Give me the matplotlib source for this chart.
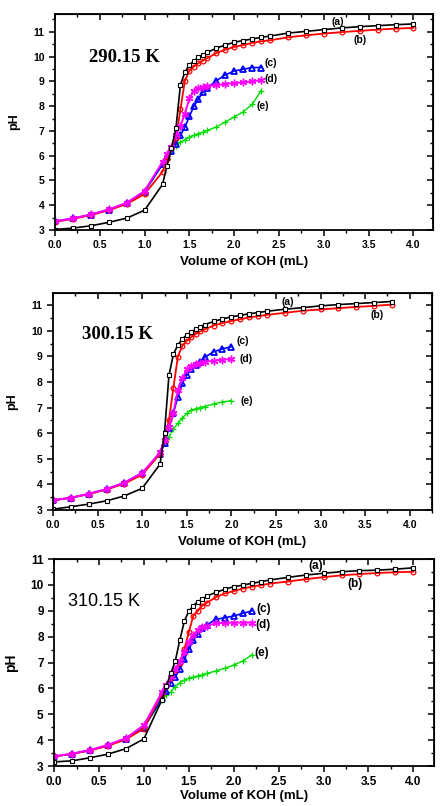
import matplotlib
matplotlib.use("Agg")
import matplotlib.pyplot as plt
from matplotlib.ticker import MultipleLocator

# volume of KOH (mL)
vol = [0, 0.2, 0.4, 0.6, 0.8, 1.0, 1.2, 1.25, 1.3, 1.35, 1.4, 1.45, 1.5, 1.55, 1.6,
       1.65, 1.7, 1.8, 1.9, 2.0, 2.1, 2.2, 2.3, 2.4, 2.6, 2.8, 3.0, 3.2, 3.4, 3.6, 3.8, 4.0]

# 290.15 K
a1 = [3.02, 3.08, 3.17, 3.31, 3.48, 3.80, 4.84, 5.60, 6.30, 7.12, 8.86, 9.38, 9.66, 9.83, 9.97,
      10.08, 10.17, 10.34, 10.47, 10.58, 10.65, 10.71, 10.78, 10.83, 10.95, 11.02, 11.09, 11.16,
      11.21, 11.25, 11.29, 11.32]
b1 = [3.33, 3.45, 3.60, 3.80, 4.05, 4.45, 5.35, 5.85, 6.30, 6.70, 7.88, 9.03, 9.43, 9.60, 9.73,
      9.84, 9.94, 10.14, 10.28, 10.39, 10.47, 10.55, 10.62, 10.66, 10.78, 10.86, 10.93, 10.99,
      11.04, 11.09, 11.13, 11.16]
c1 = [3.35, 3.47, 3.62, 3.82, 4.08, 4.55, 5.65, 5.95, 6.20, 6.48, 6.82, 7.16, 7.59, 8.00, 8.28,
      8.57, 8.72, 9.03, 9.26, 9.42, 9.49, 9.56, 9.56]
d1 = [3.35, 3.47, 3.63, 3.83, 4.10, 4.58, 5.75, 6.05, 6.35, 6.85, 7.20, 7.70, 8.31, 8.62, 8.74,
      8.78, 8.82, 8.84, 8.90, 8.93, 8.96, 9.00, 9.05]
e1 = [3.35, 3.47, 3.62, 3.82, 4.08, 4.55, 5.65, 5.95, 6.21, 6.39, 6.55, 6.65, 6.75, 6.82, 6.89,
      6.95, 7.02, 7.16, 7.36, 7.57, 7.77, 8.07, 8.62]

# 300.15 K
a2 = [3.03, 3.13, 3.23, 3.36, 3.55, 3.85, 4.79, 6.02, 8.26, 9.08, 9.45, 9.68, 9.84, 9.94, 10.06,
      10.15, 10.23, 10.36, 10.46, 10.54, 10.60, 10.66, 10.71, 10.76, 10.84, 10.90, 10.97, 11.02,
      11.06, 11.10, 11.14]
b2 = [3.38, 3.48, 3.62, 3.80, 4.03, 4.38, 5.20, 5.75, 6.50, 7.78, 8.99, 9.41, 9.60, 9.75, 9.87,
      9.97, 10.05, 10.20, 10.30, 10.38, 10.45, 10.52, 10.57, 10.62, 10.70, 10.78, 10.83, 10.88,
      10.93, 10.97, 11.02]
c2 = [3.38, 3.48, 3.63, 3.82, 4.07, 4.45, 5.20, 5.60, 6.20, 6.78, 7.43, 7.95, 8.27, 8.51, 8.65,
      8.78, 8.96, 9.18, 9.29, 9.38]
d2 = [3.38, 3.48, 3.63, 3.82, 4.07, 4.45, 5.25, 5.75, 6.25, 6.80, 7.69, 8.14, 8.49, 8.62, 8.70,
      8.75, 8.78, 8.83, 8.87, 8.89]
e2 = [3.38, 3.48, 3.62, 3.81, 4.05, 4.40, 5.20, 5.60, 5.86, 6.15, 6.39, 6.58, 6.78, 6.90, 6.95,
      7.00, 7.04, 7.14, 7.22, 7.27]

# 310.15 K
a3 = [3.16, 3.20, 3.32, 3.46, 3.67, 4.05, 5.55, 6.10, 6.58, 7.07, 7.87, 8.60, 8.99, 9.20, 9.35,
      9.45, 9.57, 9.71, 9.83, 9.93, 9.99, 10.06, 10.12, 10.19, 10.29, 10.38, 10.45, 10.51,
      10.55, 10.57, 10.61, 10.66]
b3 = [3.37, 3.47, 3.60, 3.78, 4.03, 4.45, 5.80, 6.10, 6.40, 6.70, 7.00, 7.51, 8.17, 8.81, 9.00,
      9.20, 9.31, 9.52, 9.67, 9.76, 9.86, 9.93, 9.99, 10.05, 10.13, 10.22, 10.30, 10.37,
      10.42, 10.46, 10.49, 10.51]
c3 = [3.37, 3.47, 3.61, 3.80, 4.05, 4.48, 5.62, 5.90, 6.22, 6.45, 6.74, 7.12, 7.51, 7.87, 8.09,
      8.32, 8.45, 8.67, 8.73, 8.80, 8.90, 8.99]
d3 = [3.37, 3.48, 3.62, 3.82, 4.08, 4.58, 5.85, 6.15, 6.45, 6.75, 7.05, 7.40, 7.80, 8.06, 8.26,
      8.36, 8.41, 8.52, 8.53, 8.54, 8.54, 8.54]
e3 = [3.37, 3.47, 3.61, 3.80, 4.05, 4.48, 5.55, 5.74, 5.87, 6.07, 6.22, 6.32, 6.39, 6.44, 6.48,
      6.53, 6.58, 6.67, 6.78, 6.90, 7.06, 7.29]

temps = ["290.15 K", "300.15 K", "310.15 K"]
curve_names = ["(a)", "(b)", "(c)", "(d)", "(e)"]

SANS = "Liberation Sans"
SERIF = "Liberation Serif"


def plot_panel(ax, ya, yb, yc, yd, ye, ytop, xright, temp, temp_pos, temp_font, lab_pos,
               fs, xfs, xpad):
    n = len
    ax.plot(vol[:n(ye)], ye, color="#00dd00", marker="+", ms=4.5, mew=0.9, lw=1.0)
    ax.plot(vol[:n(yc)], yc, color="#0000ff", marker="^", ms=4, mfc="none", mew=1.3, lw=1.2)
    ax.plot(vol[:n(yb)], yb, color="#ff0000", marker="o", ms=3.4, mfc="none", mew=0.9, lw=1.3)
    ax.plot(vol[:n(yd)], yd, color="#ff00ff", marker=(6, 2, 0), ms=5.5, mew=1.0, lw=1.4)
    ax.plot(vol[:n(ya)], ya, color="black", marker="s", ms=3.4, mfc="white", mew=0.8, lw=1.2)

    ax.set_xlim(0, xright)
    ax.set_ylim(3, ytop)
    ax.xaxis.set_major_locator(MultipleLocator(0.5))
    ax.xaxis.set_minor_locator(MultipleLocator(0.25))
    ax.yaxis.set_major_locator(MultipleLocator(1))
    ax.yaxis.set_minor_locator(MultipleLocator(0.5))
    ax.xaxis.set_major_formatter(plt.FuncFormatter(lambda v, p: "%.1f" % v))
    ax.tick_params(which="major", direction="out", length=4, width=1.1, labelsize=fs)
    ax.tick_params(which="minor", direction="out", length=2, width=1.0)
    for lab in ax.get_xticklabels() + ax.get_yticklabels():
        lab.set_fontweight("bold")
        lab.set_family(SANS)
    for sp in ax.spines.values():
        sp.set_linewidth(1.3)

    # inward ticks on top and right
    top = ax.secondary_xaxis("top")
    top.xaxis.set_major_locator(MultipleLocator(0.5))
    top.xaxis.set_minor_locator(MultipleLocator(0.25))
    top.tick_params(which="major", direction="in", length=4, width=1.1, labeltop=False)
    top.tick_params(which="minor", direction="in", length=2, width=1.0)
    right = ax.secondary_yaxis("right")
    right.yaxis.set_major_locator(MultipleLocator(1))
    right.yaxis.set_minor_locator(MultipleLocator(0.5))
    right.tick_params(which="major", direction="in", length=4, width=1.1, labelright=False)
    right.tick_params(which="minor", direction="in", length=2, width=1.0)

    ax.set_xlabel("Volume of KOH (mL)", fontsize=xfs, fontweight="bold", family=SANS, labelpad=xpad)
    ax.set_ylabel("pH", fontsize=fs + 1.5, fontweight="bold", family=SANS, labelpad=9)

    ax.text(temp_pos[0], temp_pos[1], temp, ha="center", va="center", **temp_font)
    for name, (lx, ly) in zip(curve_names, lab_pos):
        ax.text(lx, ly, name, ha="center", va="center", fontsize=fs, fontweight="bold", family=SANS)


fig = plt.figure(figsize=(4.47, 8.06), dpi=100)
ax1 = fig.add_axes([0.123, 0.7146, 0.846, 0.268])
ax2 = fig.add_axes([0.1186, 0.3672, 0.848, 0.2692])
ax3 = fig.add_axes([0.121, 0.0496, 0.850, 0.2568])

serif_font = dict(fontsize=13.5, fontweight="bold", family=SERIF)
sans_font = dict(fontsize=13, family=SANS)

plot_panel(ax1, a1, b1, c1, d1, e1, 11.72, 4.22, temps[0], (0.77, 9.95), serif_font,
           [(3.15, 11.41), (3.41, 10.68), (2.41, 9.75), (2.41, 9.10), (2.32, 8.0)], 7.5, 9.5, 4)
plot_panel(ax2, a2, b2, c2, d2, e2, 11.47, 4.25, temps[1], (0.72, 9.84), serif_font,
           [(2.63, 11.12), (3.63, 10.62), (2.13, 9.60), (2.17, 8.90), (2.17, 7.26)], 7.5, 9.5, 4)
plot_panel(ax3, a3, b3, c3, d3, e3, 11.0, 4.23, temps[2], (0.56, 9.34), sans_font,
           [(2.91, 10.73), (3.35, 10.03), (2.33, 9.07), (2.33, 8.45), (2.31, 7.37)], 8.5, 9.5, 1)

fig.savefig("out.png", dpi=100)
